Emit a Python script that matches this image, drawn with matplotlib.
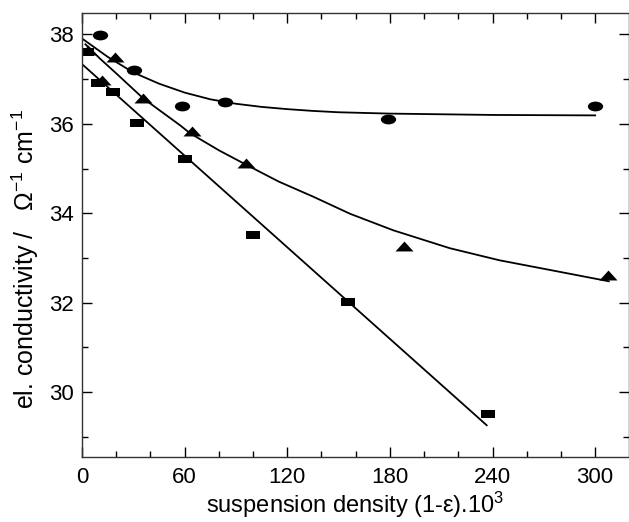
import matplotlib
matplotlib.use("Agg")
import matplotlib.pyplot as plt
from matplotlib.path import Path
from matplotlib.transforms import Affine2D
from matplotlib.ticker import MultipleLocator

plt.rcParams['font.family'] = ['Liberation Sans', 'DejaVu Sans']
plt.rcParams['mathtext.fontset'] = 'custom'
plt.rcParams['mathtext.rm'] = 'Liberation Sans'
plt.rcParams['mathtext.it'] = 'Liberation Sans'

# ---- data ----
circle_x = [10.6, 30.3, 58.7, 83.8, 179, 300]
circle_y = [37.98, 37.2, 36.4, 36.49, 36.1, 36.4]

triangle_x = [3.7, 11.5, 19.3, 35.8, 64.4, 95.9, 188.3, 307.4]
triangle_y = [37.65, 36.98, 37.5, 36.59, 35.84, 35.13, 33.26, 32.63]

square_x = [2.7, 9.5, 17.9, 32.0, 60.0, 100.2, 155.7, 237.2]
square_y = [37.6, 36.92, 36.72, 36.01, 35.21, 33.51, 32.02, 29.52]

# fitted curves
circle_fit_x = [0, 15, 30, 45, 60, 75, 90, 105, 120, 135, 150, 180, 240, 300]
circle_fit_y = [37.91, 37.5, 37.15, 36.9, 36.7, 36.55, 36.45, 36.38, 36.33, 36.29, 36.26, 36.23, 36.2, 36.19]

triangle_fit_x = [2, 10.5, 20, 35.8, 57.3, 63.2, 80, 96.3, 115, 135.3, 156.7, 182, 215, 244, 274, 308]
triangle_fit_y = [37.78, 37.46, 37.13, 36.57, 35.97, 35.79, 35.41, 35.08, 34.71, 34.37, 33.99, 33.62, 33.22, 32.95, 32.73, 32.48]

square_fit_x = [0.8, 236.6]
square_fit_y = [37.31, 29.26]

x_ticks = [0, 60, 120, 180, 240, 300]
y_ticks = [30, 32, 34, 36, 38]

# ---- marker shapes (wider than tall) ----
ellipse = Path.unit_circle().transformed(Affine2D().scale(1.0, 0.64))
rect = Path([(-1, -0.68), (1, -0.68), (1, 0.68), (-1, 0.68), (-1, -0.68)],
            [Path.MOVETO, Path.LINETO, Path.LINETO, Path.LINETO, Path.CLOSEPOLY])
tri = Path([(-1, -0.55), (1, -0.55), (0, 0.55), (-1, -0.55)],
           [Path.MOVETO, Path.LINETO, Path.LINETO, Path.CLOSEPOLY])

fig = plt.figure(figsize=(6.29, 5.22), dpi=100)
ax = fig.add_axes([82 / 629, 1 - 457 / 522, 546.5 / 629, 444 / 522])

lw = 1.3
ax.plot(circle_fit_x, circle_fit_y, color='black', lw=lw)
ax.plot(triangle_fit_x, triangle_fit_y, color='black', lw=lw)
ax.plot(square_fit_x, square_fit_y, color='black', lw=lw)

ax.plot(circle_x, circle_y, linestyle='none', marker=ellipse, markersize=11,
        color='black', markeredgewidth=0)
ax.plot(triangle_x, triangle_y, linestyle='none', marker=tri, markersize=13,
        color='black', markeredgewidth=0)
ax.plot(square_x, square_y, linestyle='none', marker=rect, markersize=9.5,
        color='black', markeredgewidth=0)

ax.set_xlim(0, 319.5)
ax.set_ylim(28.55, 38.48)
ax.set_xticks(x_ticks)
ax.set_yticks(y_ticks)
ax.xaxis.set_minor_locator(MultipleLocator(20))
ax.yaxis.set_minor_locator(MultipleLocator(1))

ax.tick_params(which='both', direction='in', top=True, right=True, width=1, color='black')
ax.tick_params(which='major', length=7)
ax.tick_params(which='minor', length=4)
ax.tick_params(axis='x', which='major', labelsize=16, pad=7.5)
ax.tick_params(axis='y', which='major', labelsize=16, pad=6)
for s in ax.spines.values():
    s.set_linewidth(1.0)
    s.set_color('#333333')

ax.set_xlabel("suspension density (1-ε).10$^{3}$", fontsize=17, va='baseline')
ax.xaxis.set_label_coords(0.5, -0.127)
ax.set_ylabel("el. conductivity /   Ω$^{-1}$ cm$^{-1}$", fontsize=18, va='center')
ax.yaxis.set_label_coords(-0.104, 0.446)

fig.savefig("out.png", dpi=100)
